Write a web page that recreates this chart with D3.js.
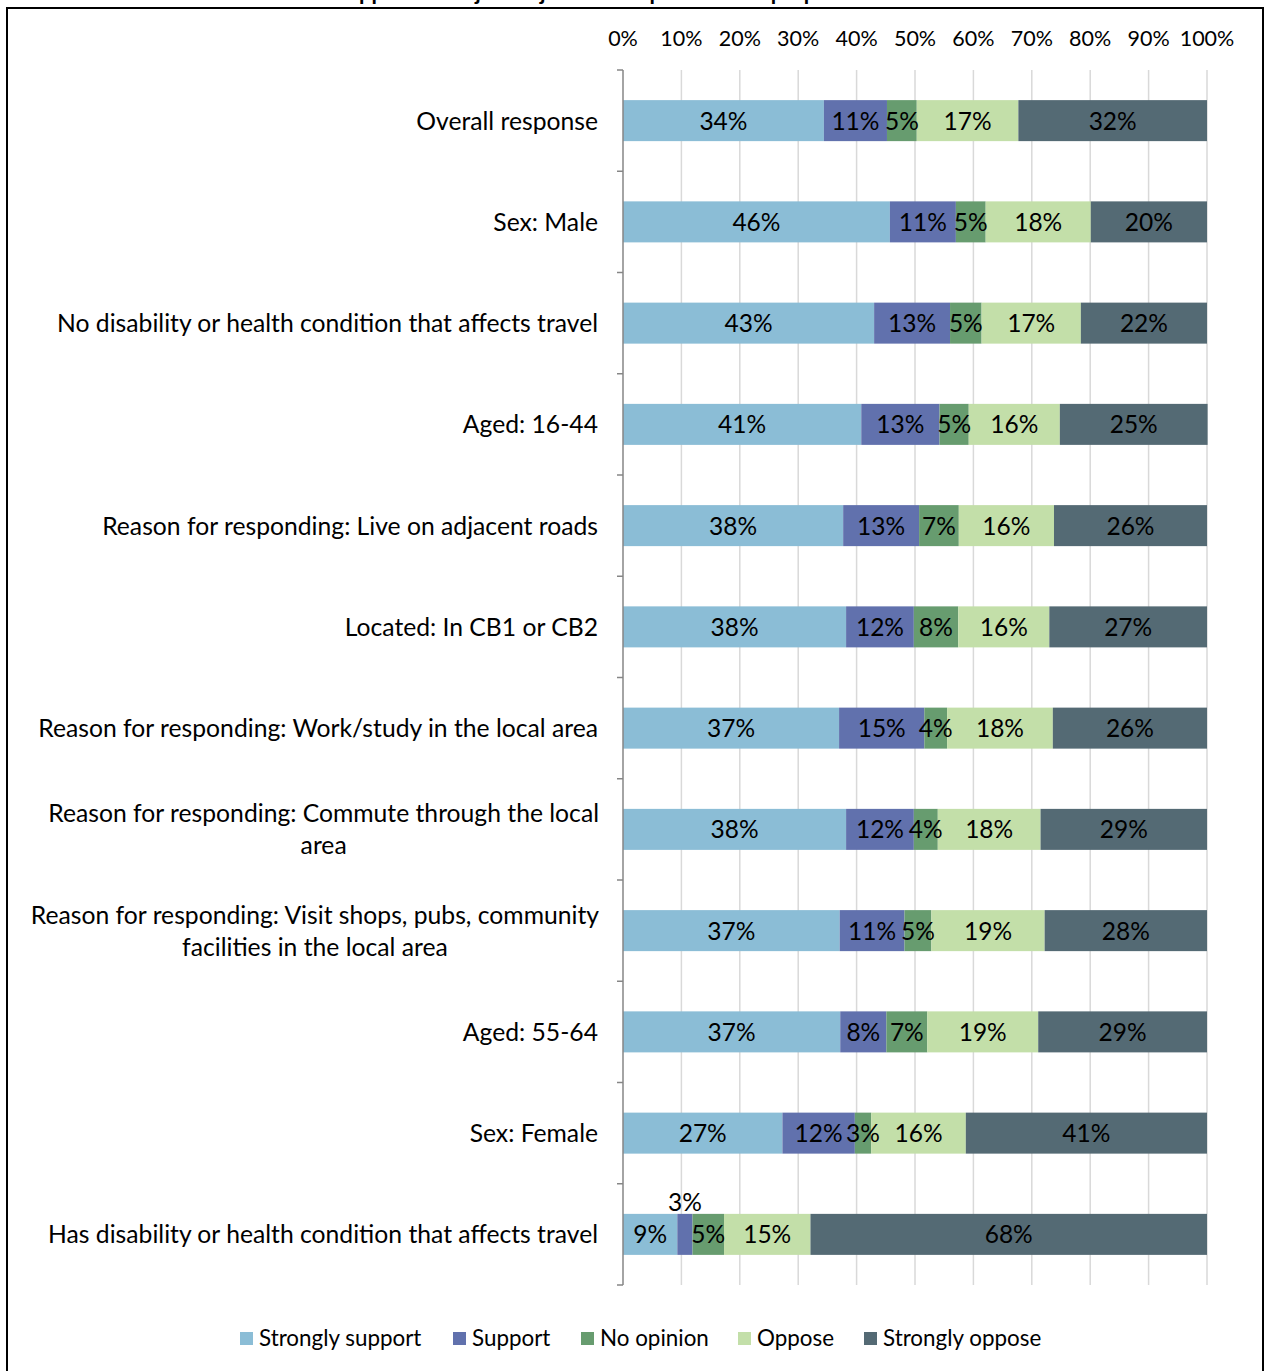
<!DOCTYPE html>
<html><head><meta charset="utf-8">
<script src="https://cdn.jsdelivr.net/npm/d3@7"></script>
<style>
body{margin:0;background:#fff;}
svg{display:block;font-family:Lato,"Open Sans",sans-serif;}
</style></head>
<body><svg id="c" width="1265" height="1371"></svg>
<script>
const categories = [
  "Overall response",
  "Sex: Male",
  "No disability or health condition that affects travel",
  "Aged: 16-44",
  "Reason for responding: Live on adjacent roads",
  "Located: In CB1 or CB2",
  "Reason for responding: Work/study in the local area",
  "Reason for responding: Commute through the local area",
  "Reason for responding: Visit shops, pubs, community facilities in the local area",
  "Aged: 55-64",
  "Sex: Female",
  "Has disability or health condition that affects travel"
];
const seriesNames = ["Strongly support","Support","No opinion","Oppose","Strongly oppose"];
const stronglySupport = [34.4,45.7,43.0,40.8,37.7,38.2,37.0,38.2,37.1,37.2,27.3,9.3];
const support         = [10.8,11.3,13.0,13.4,13.0,11.6,14.6,11.6,11.1,7.9,12.4,2.6];
const noOpinion       = [5.1,5.1,5.4,5.0,6.8,7.6,3.9,4.1,4.6,7.0,2.8,5.4];
const oppose          = [17.4,18.0,17.0,15.6,16.3,15.6,18.1,17.6,19.4,19.0,16.2,14.8];
const stronglyOppose  = [32.3,19.9,21.6,25.3,26.2,27.0,26.4,28.5,27.8,28.9,41.3,67.9];
const tickValues = [0,10,20,30,40,50,60,70,80,90,100];
const colors = ["#8BBDD6","#6171AD","#679C6F","#C3DFA9","#546A74"];
const titleText = "Support for adjacent junction improvements proposal";

const svg = d3.select("#c");
const rows = categories.map((c,i)=>({cat:c,
  "Strongly support":stronglySupport[i],"Support":support[i],"No opinion":noOpinion[i],
  "Oppose":oppose[i],"Strongly oppose":stronglyOppose[i]}));
const stacked = d3.stack().keys(seriesNames)(rows);

const x = d3.scaleLinear().domain([0,100]).range([623,1207]);
const y = d3.scaleBand().domain(categories).range([70,1285]).paddingInner(0.595).paddingOuter(0.2975);
const step = y.step();

const catFS = 24.7, valFS = 24.5;

// frame
svg.append("rect").attr("x",7).attr("y",8).attr("width",1256).attr("height",1380)
  .attr("fill","none").attr("stroke","#000").attr("stroke-width",2);
// title (cut off at top, as in the reference)
svg.append("text").attr("x",595).attr("y",0).attr("text-anchor","middle")
  .attr("font-weight","bold").attr("font-size",22).text(titleText);

// gridlines
svg.append("g").selectAll("line").data(tickValues.slice(1)).join("line")
  .attr("x1",d=>x(d)).attr("x2",d=>x(d)).attr("y1",70).attr("y2",1285)
  .attr("stroke","#d9d9d9").attr("stroke-width",1.5);

// top axis labels
svg.append("g").selectAll("text").data(tickValues).join("text")
  .attr("x",d=>x(d)).attr("y",46).attr("text-anchor","middle")
  .attr("font-size",21.5).attr("fill","#000").text(d=>d+"%");

// bars
const g = svg.append("g");
stacked.forEach((s,si)=>{
  g.append("g").selectAll("rect").data(s).join("rect")
    .attr("x",d=>x(d[0])).attr("width",d=>x(d[1])-x(d[0]))
    .attr("y",d=>y(d.data.cat)).attr("height",y.bandwidth())
    .attr("fill",colors[si]);
});
// labels
stacked.forEach((s,si)=>{
  g.append("g").selectAll("text").data(s).join("text")
    .attr("x",d=>(x(d[0])+x(d[1]))/2)
    .attr("y",d=>{const v=d[1]-d[0]; const cy=y(d.data.cat)+y.bandwidth()/2;
      return v<2.7 ? y(d.data.cat)-3 : cy+9;})
    .attr("text-anchor","middle").attr("font-size",valFS).attr("fill","#000")
    .text(d=>d3.format(".0f")(d[1]-d[0])+"%");
});

// vertical axis
svg.append("line").attr("x1",623).attr("x2",623).attr("y1",70).attr("y2",1285)
  .attr("stroke","#868686").attr("stroke-width",1.5);
svg.append("g").selectAll("line").data(d3.range(categories.length+1)).join("line")
  .attr("x1",617).attr("x2",623)
  .attr("y1",i=>y.range()[0]+i*step).attr("y2",i=>y.range()[0]+i*step)
  .attr("stroke","#868686").attr("stroke-width",1.5);

// category labels with wrap
const maxW = 578;
const lab = svg.append("g");
categories.forEach(c=>{
  const cy = y(c)+y.bandwidth()/2;
  const t = lab.append("text").attr("font-size",catFS).attr("fill","#000");
  const words = c.split(" ");
  let lines=[], cur=[];
  const probe = lab.append("text").attr("font-size",catFS);
  words.forEach(w=>{
    const trial = cur.concat([w]).join(" ");
    probe.text(trial);
    if(probe.node().getComputedTextLength()>maxW && cur.length){lines.push(cur.join(" "));cur=[w];}
    else cur.push(w);
  });
  lines.push(cur.join(" "));
  probe.remove();
  if(lines.length===1){
    t.attr("x",598).attr("y",cy+9).attr("text-anchor","end").text(lines[0]);
  } else {
    const tmp = lab.append("text").attr("font-size",catFS);
    let w=0; lines.forEach(l=>{tmp.text(l); w=Math.max(w,tmp.node().getComputedTextLength());});
    tmp.remove();
    const cx = 599 - w/2;
    lines.forEach((l,i)=>{
      t.append("tspan").attr("x",cx).attr("text-anchor","middle")
        .attr("y",cy+9+(i-(lines.length-1)/2)*32).text(l);
    });
  }
});

// legend
const legX = [240,453,581,738,864];
const leg = svg.append("g");
seriesNames.forEach((n,i)=>{
  leg.append("rect").attr("x",legX[i]).attr("y",1332).attr("width",13).attr("height",13).attr("fill",colors[i]);
  leg.append("text").attr("x",legX[i]+19).attr("y",1346).attr("font-size",22.4).attr("fill","#000").text(n);
});
</script></body></html>
